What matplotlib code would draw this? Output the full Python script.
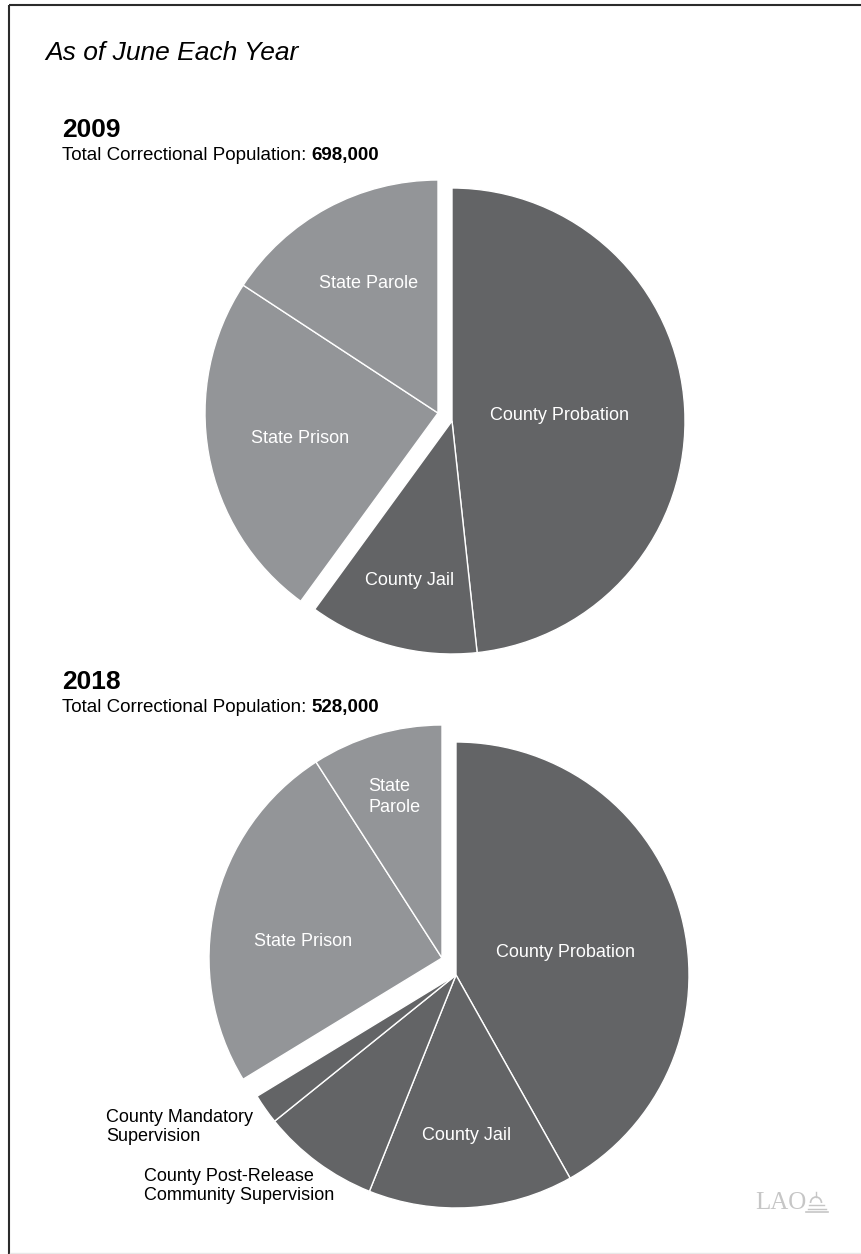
import numpy as np
import matplotlib.pyplot as plt
from matplotlib.patches import Arc

plt.rcParams['font.family'] = ['Liberation Sans', 'DejaVu Sans']

# Correctional population by supervision type, in thousands (as of June)
names_2009 = ["County Probation", "County Jail", "State Prison", "State Parole"]
pop_2009 = [337, 82, 169, 110]

names_2018 = ["County Probation", "County Jail",
              "County Post-Release\nCommunity Supervision",
              "County Mandatory\nSupervision",
              "State Prison", "State\nParole"]
pop_2018 = [221, 75, 43, 11, 130, 48]

# how many leading slices belong to the county group (rest are state)
county_n_2009 = 2
county_n_2018 = 4

DARK = "#636466"
LIGHT = "#939598"

W, H = 862, 1254
R = 233

fig = plt.figure(figsize=(W / 100, H / 100), dpi=100)
ax = fig.add_axes([0, 0, 1, 1])


def draw_pie(values, names, n_county, center, shift, spots, outside):
    cx, cy = center[0], H - center[1]
    colors = [DARK] * n_county + [LIGHT] * (len(values) - n_county)
    wedges, _ = ax.pie(values, colors=colors, startangle=90, counterclock=False,
                       radius=R, center=(cx, cy), frame=True,
                       wedgeprops=dict(edgecolor="white", linewidth=1.0))
    # pull the state slices out together as one block
    for w in wedges[n_county:]:
        w.set_center((cx + shift[0], cy + shift[1]))
    for w, name, spot in zip(wedges, names, spots):
        if spot is None:
            continue
        frac, dtheta = spot
        mid = np.deg2rad((w.theta1 + w.theta2) / 2 + dtheta)
        x = w.center[0] + R * frac * np.cos(mid)
        y = w.center[1] + R * frac * np.sin(mid)
        ax.text(x, y, name, color="white", fontsize=13, ha="center", va="center",
                multialignment="left", linespacing=1.35)
    for name, (x, y) in outside.items():
        ax.text(x, H - y, name, color="black", fontsize=13, ha="left", va="center",
                linespacing=1.1)
    return wedges


def header(year, values, baseline):
    ax.text(62, H - baseline, year, fontsize=19, fontweight="bold", va="baseline")
    sub = ax.text(62, H - baseline - 23, "Total Correctional Population: ",
                  fontsize=13.5, va="baseline")
    ax.annotate(f"{sum(values) * 1000:,}", xy=(1, 0), xycoords=sub,
                fontsize=13.5, fontweight="bold", va="bottom", ha="left")


ax.text(45, H - 60, "As of June Each Year", fontsize=19, style="italic", va="baseline")

header("2009", pop_2009, 137)
draw_pie(pop_2009, names_2009, county_n_2009, (452, 421), (-14, 8),
         [(0.46, 0), (0.71, 0), (0.60, 0), (0.63, 0)], {})

header("2018", pop_2018, 689)
draw_pie(pop_2018, names_2018, county_n_2018, (456, 975), (-14, 17),
         [(0.48, -3), (0.69, 0), None, None, (0.60, 6), (0.72, 0)],
         {names_2018[3]: (106, 1127), names_2018[2]: (144, 1186)})

# logo mark: wordmark plus a small capitol dome
GREY = "#c6c6c6"
ax.text(755, H - 1203, "LAO", family=["Liberation Serif", "DejaVu Serif"],
        fontsize=18, color=GREY, va="center")
ax.add_patch(Arc((816, H - 1203), 11, 12, theta1=0, theta2=180, color=GREY, lw=1.2))
ax.plot([816, 816], [H - 1197, H - 1192], color=GREY, lw=1.0)
ax.plot([809, 824], [H - 1205, H - 1205], color=GREY, lw=1.0)
ax.plot([808, 826], [H - 1209, H - 1209], color=GREY, lw=1.0)
ax.plot([806, 828], [H - 1212, H - 1212], color=GREY, lw=1.2)

# frame
ax.plot([9.5, 9.5], [0, H - 4.5], color="#2b2b2b", lw=1.5, solid_capstyle="butt")
ax.plot([9.5, W], [H - 4.5, H - 4.5], color="#2b2b2b", lw=1.5, solid_capstyle="butt")
ax.plot([10, W], [1.5, 1.5], color="#e8e8e8", lw=1.0)

ax.set_xlim(0, W)
ax.set_ylim(0, H)
ax.set_aspect("equal")
ax.axis("off")

fig.savefig("out.png", dpi=100)
